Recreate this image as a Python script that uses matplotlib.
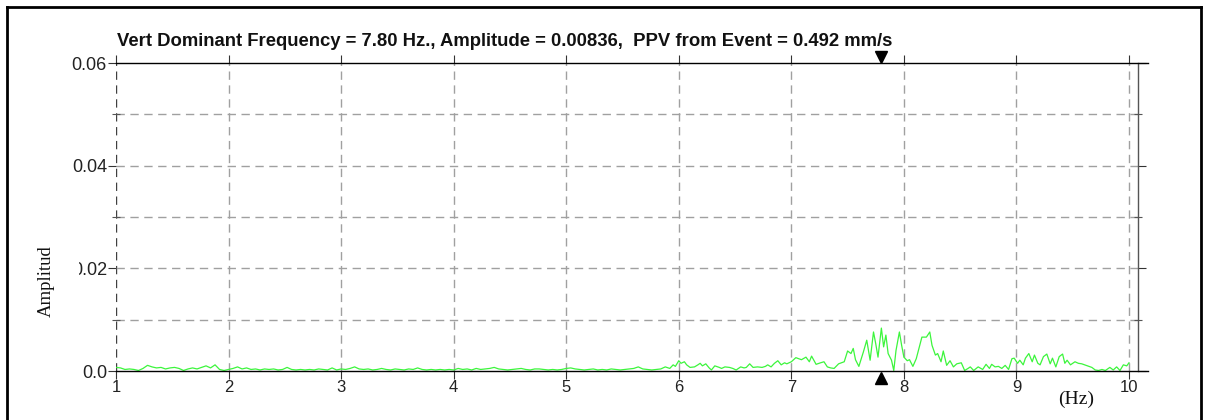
import numpy as np
import matplotlib
matplotlib.use("Agg")
import matplotlib.pyplot as plt
import matplotlib.transforms as mtransforms
from matplotlib.lines import Line2D
from matplotlib.patches import Rectangle

# Vertical-channel FFT spectrum (frequency in Hz, amplitude in units of 1e-4)
freq_hz = [
    1.00, 1.04, 1.08, 1.12, 1.16, 1.20, 1.24, 1.28, 1.32, 1.36,
    1.40, 1.44, 1.48, 1.52, 1.56, 1.60, 1.64, 1.68, 1.72, 1.76,
    1.80, 1.84, 1.88, 1.92, 1.96, 2.00, 2.04, 2.08, 2.12, 2.16,
    2.20, 2.24, 2.28, 2.32, 2.36, 2.40, 2.44, 2.48, 2.52, 2.56,
    2.60, 2.64, 2.68, 2.72, 2.76, 2.80, 2.84, 2.88, 2.92, 2.96,
    3.00, 3.04, 3.08, 3.12, 3.16, 3.20, 3.24, 3.28, 3.32, 3.36,
    3.40, 3.44, 3.48, 3.52, 3.56, 3.60, 3.64, 3.68, 3.72, 3.76,
    3.80, 3.84, 3.88, 3.92, 3.96, 4.00, 4.04, 4.08, 4.12, 4.16,
    4.20, 4.24, 4.28, 4.32, 4.36, 4.40, 4.44, 4.48, 4.52, 4.56,
    4.60, 4.64, 4.68, 4.72, 4.76, 4.80, 4.84, 4.88, 4.92, 4.96,
    5.00, 5.04, 5.08, 5.12, 5.16, 5.20, 5.24, 5.28, 5.32, 5.36,
    5.40, 5.44, 5.48, 5.52, 5.56, 5.60, 5.64, 5.68, 5.72, 5.76,
    5.80, 5.84, 5.88, 5.92, 5.95, 5.97, 6.00, 6.02, 6.05, 6.07,
    6.10, 6.14, 6.17, 6.19, 6.21, 6.24, 6.27, 6.29, 6.32, 6.36,
    6.38, 6.41, 6.45, 6.48, 6.51, 6.55, 6.58, 6.60, 6.63, 6.66,
    6.70, 6.74, 6.77, 6.79, 6.82, 6.85, 6.88, 6.91, 6.94, 6.96,
    7.00, 7.04, 7.09, 7.13, 7.16, 7.18, 7.22, 7.26, 7.29, 7.32,
    7.35, 7.38, 7.42, 7.47, 7.50, 7.53, 7.55, 7.57, 7.60, 7.64,
    7.67, 7.70, 7.73, 7.75, 7.77, 7.80, 7.82, 7.84, 7.86, 7.89,
    7.91, 7.93, 7.96, 7.98, 8.00, 8.03, 8.05, 8.08, 8.11, 8.16,
    8.20, 8.23, 8.25, 8.28, 8.30, 8.33, 8.35, 8.38, 8.41, 8.44,
    8.47, 8.51, 8.54, 8.57, 8.59, 8.62, 8.66, 8.70, 8.73, 8.76,
    8.78, 8.81, 8.84, 8.87, 8.90, 8.93, 8.96, 8.98, 9.01, 9.03,
    9.06, 9.08, 9.11, 9.14, 9.16, 9.19, 9.21, 9.24, 9.27, 9.30,
    9.32, 9.35, 9.38, 9.41, 9.43, 9.45, 9.48, 9.52, 9.55, 9.58,
    9.63, 9.67, 9.70, 9.73, 9.76, 9.79, 9.83, 9.86, 9.89, 9.92,
    9.95, 9.98, 10.00,
]
amp_1e4 = [
    7, 6, 3, 4, 3, 1, 5, 11, 8, 6,
    7, 4, 6, 7, 5, 1, 4, 6, 4, 7,
    10, 6, 12, 3, 1, 3, 5, 8, 4, 6,
    3, 4, 2, 4, 3, 4, 2, 3, 7, 3,
    2, 3, 2, 3, 2, 4, 3, 2, 6, 2,
    4, 3, 5, 8, 4, 3, 4, 2, 3, 5,
    3, 2, 4, 3, 2, 4, 3, 6, 3, 2,
    3, 2, 3, 2, 3, 2, 5, 3, 4, 2,
    5, 3, 4, 5, 7, 4, 3, 2, 3, 4,
    5, 3, 2, 4, 4, 3, 2, 3, 2, 3,
    5, 6, 4, 3, 2, 3, 4, 2, 3, 2,
    4, 3, 2, 3, 4, 5, 8, 4, 3, 2,
    3, 4, 8, 5, 12, 9, 20, 15, 18, 12,
    7, 8, 12, 15, 10, 14, 6, 2, 10, 7,
    5, 8, 7, 5, 2, 8, 6, 7, 14, 7,
    8, 7, 9, 12, 8, 15, 20, 12, 16, 14,
    18, 26, 22, 27, 18, 29, 13, 16, 18, 8,
    6, 5, 14, 18, 39, 34, 44, 22, 9, 37,
    60, 21, 76, 53, 27, 83.6, 47, 70, 34, 21,
    1, 40, 76, 50, 27, 20, 22, 9, 24, 66,
    66, 76, 50, 31, 34, 18, 39, 11, 20, 8,
    14, 16, 1, 5, 8, 1, 8, 3, 13, 5,
    13, 8, 9, 5, 11, 3, 24, 25, 15, 21,
    12, 25, 34, 18, 31, 15, 12, 28, 33, 14,
    25, 8, 28, 33, 15, 21, 12, 18, 15, 14,
    10, 7, 2, 1, 3, 1, 7, 2, 8, 1,
    12, 10, 16,
]

dominant_freq = 7.80
dominant_amp = 0.00836
ppv_mm_s = 0.492

x_ticks = [1, 2, 3, 4, 5, 6, 7, 8, 9, 10]
y_major = [0.0, 0.02, 0.04, 0.06]
y_major_labels = ["0.0", "0.02", "0.04", "0.06"]
y_minor = [0.01, 0.03, 0.05]

amplitude = np.array(amp_1e4) * 1e-4

W, H = 1205, 420
fig = plt.figure(figsize=(W / 100, H / 100), dpi=100)
fig.patch.set_facecolor("white")

def fx(x):
    return x / W

def fy(y):
    return 1 - y / H

ax = fig.add_axes([fx(116), fy(371), (1138 - 116) / W, (371 - 63) / H])
ax.set_xlim(1.0, 10.08)
ax.set_ylim(0.0, 0.06)

grid_kw = dict(color="#a0a0a0", lw=1.0, ls=(0, (6, 4)), zorder=1)
for v in x_ticks[1:]:
    ax.axvline(v, **grid_kw)
ax.axvline(1.0, color="#404040", lw=1.0, ls=(0, (6, 4)), zorder=1)
for v in y_minor + y_major[1:2] + y_major[2:3]:
    ax.axhline(v, **grid_kw)

ax.plot(freq_hz, amplitude, color="#3cf53c", lw=0.9, zorder=3)

for s in ("left", "top", "bottom"):
    ax.spines[s].set_visible(False)
ax.spines["right"].set_color("#555555")
ax.spines["right"].set_linewidth(1.0)

# top and bottom frame lines run a little past the right spine
ext = (1148 - 116) / (1138 - 116)
for yy in (0.0, 1.0):
    ax.add_line(Line2D([0, ext], [yy, yy], transform=ax.transAxes, color="black",
                       lw=1.0, clip_on=False, zorder=4))

ax.set_xticks(x_ticks)
ax.set_xticklabels([str(t) for t in x_ticks])
ax.set_yticks(y_major)
ax.set_yticklabels(y_major_labels)
ax.set_yticks(y_minor, minor=True)
ax.tick_params(axis="x", which="major", direction="out", length=6, width=0.8,
               color="#333333", top=True, labeltop=False, pad=0.5,
               labelsize=12, labelcolor="#222222")
ax.tick_params(axis="y", which="major", direction="out", length=6, width=0.8,
               color="#333333", right=True, labelright=False, pad=0.5,
               labelsize=13, labelcolor="#222222")
ax.tick_params(axis="y", which="minor", direction="inout", length=6, width=0.8,
               color="#555555", right=True)
for lab in ax.get_xticklabels() + ax.get_yticklabels():
    lab.set_family("Liberation Sans")

# dominant-frequency markers above and below the plot
trans = mtransforms.blended_transform_factory(ax.transData, ax.transAxes)
ax.plot([dominant_freq], [1.0 + 6 / 308], marker="v", color="black", ms=8.5,
        transform=trans, clip_on=False, zorder=5)
ax.plot([dominant_freq], [-6.5 / 308], marker="^", color="black", ms=8.5,
        transform=trans, clip_on=False, zorder=5)

title = (f"Vert Dominant Frequency = {dominant_freq:.2f} Hz., "
         f"Amplitude = {dominant_amp:.5f},  PPV from Event = {ppv_mm_s:.3f} mm/s")
fig.text(fx(117), fy(46), title, family="Liberation Sans", weight="bold",
         fontsize=13.3, color="#111111", ha="left", va="baseline")

fig.text(fx(46), fy(281), "Amplitud", family="Liberation Serif", fontsize=13.5,
         rotation=90, ha="center", va="center", color="#111111")
fig.text(fx(1076), fy(399), "(Hz)", family="Liberation Serif", fontsize=14,
         ha="center", va="center", color="#111111")

# white block partly hiding the 0.02 label
fig.patches.append(Rectangle((fx(58), fy(280)), (79 - 58) / W, 22 / H,
                             transform=fig.transFigure, facecolor="white",
                             edgecolor="none", zorder=2))

# page frame
for xs, ys in (([7, 7], [7, 425]), ([7, 1201], [7, 7]), ([1201, 1201], [7, 425])):
    fig.add_artist(Line2D([fx(v) for v in xs], [fy(v) for v in ys],
                          transform=fig.transFigure, color="black", lw=2.0))

fig.savefig("out.png", dpi=100)
